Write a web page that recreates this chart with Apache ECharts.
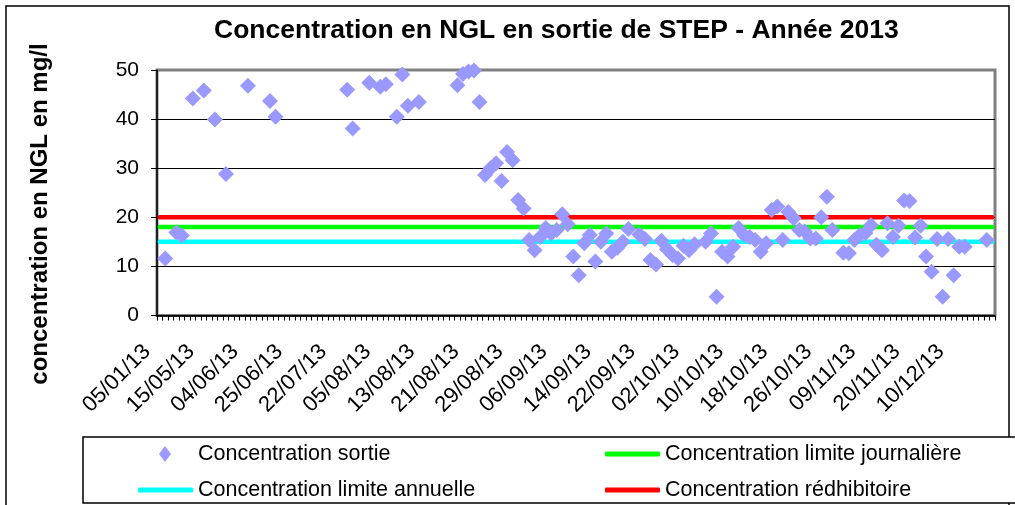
<!DOCTYPE html>
<html>
<head>
<meta charset="utf-8">
<script src="https://cdn.jsdelivr.net/npm/echarts@6/dist/echarts.min.js"></script>
<style>
  html, body { margin: 0; padding: 0; background: #fff; }
  #chart { width: 1015px; height: 505px; }
</style>
</head>
<body>
<div id="chart"></div>
<script>
// Sample dates shown on the x axis (one label every LABEL_STEP samples)
const TICK_LABELS = ['05/01/13', '15/05/13', '04/06/13', '25/06/13', '22/07/13', '05/08/13',
  '13/08/13', '21/08/13', '29/08/13', '06/09/13', '14/09/13', '22/09/13', '02/10/13',
  '10/10/13', '18/10/13', '26/10/13', '09/11/13', '20/11/13', '10/12/13'];
const LABEL_STEP = 8;

// NGL concentration at the plant outlet (mg/l), one entry per sample, null = no measure
const CONCENTRATION_SORTIE = [
  null, 11.6, null, 16.9, 16.3, null, 44.2, null, 45.8, null,   // 0-9
  39.9, null, 28.8, null, null, null, 46.8, null, null, null,   // 10-19
  43.7, 40.5, null, null, null, null, null, null, null, null,   // 20-29
  null, null, null, null, 46.0, 38.1, null, null, 47.4, null,   // 30-39
  46.6, 47.1, null, 40.5, 49.1, 42.7, null, 43.5, null, null,   // 40-49
  null, null, null, null, 46.9, 49.2, 49.7, 49.9, 43.5, 28.6,   // 50-59
  30.0, 31.0, 27.4, 33.3, 31.6, 23.5, 21.8, 15.4, 13.3, 16.0,   // 60-69
  17.8, 16.7, 17.4, 20.6, 18.6, 12.0, 8.2, 14.7, 16.4, 11.0,    // 70-79
  15.0, 16.7, 13.0, 13.8, 15.0, 17.6, null, 16.5, 15.6, 11.3,   // 80-89
  10.4, 15.2, 13.5, 12.3, 11.6, 14.2, 13.3, 14.5, null, 15.0,   // 90-99
  16.7, 3.8, 13.0, 12.0, 14.0, 17.8, 16.4, 16.0, 15.4, 13.0,    // 100-109
  14.7, 21.5, 22.2, 15.4, 21.1, 19.8, 17.4, 17.1, 15.7, 15.7,   // 110-119
  20.0, 24.2, 17.4, null, 12.8, 12.7, 15.4, 16.4, 16.8, 18.4,   // 120-129
  14.4, 13.3, 18.8, 16.0, 18.3, 23.4, 23.3, 15.9, 18.3, 12.0,   // 130-139
  8.9, 15.6, 3.8, 15.6, 8.2, 14.0, 14.0, null, null, null,      // 140-149
  15.4, null                                                    // 150-151
];

// Regulatory thresholds (mg/l)
const LIMITE_ANNUELLE = 15;
const LIMITE_JOURNALIERE = 18;
const LIMITE_REDHIBITOIRE = 20;

const SERIES_NAMES = {
  sortie: 'Concentration sortie',
  journaliere: 'Concentration limite journalière',
  annuelle: 'Concentration limite annuelle',
  redhibitoire: 'Concentration rédhibitoire'
};

const COLORS = {
  sortie: '#9999FF',
  annuelle: '#00FFFF',
  journaliere: '#00FF00',
  redhibitoire: '#FF0000'
};

const FONT = '"Liberation Sans", Arial, sans-serif';

const categories = CONCENTRATION_SORTIE.map((_, i) => String(i + 1));
const levelSeries = (value) => categories.map(() => value);
const scatterData = [];
CONCENTRATION_SORTIE.forEach((v, i) => { if (v !== null) scatterData.push([i, v]); });

const chart = echarts.init(document.getElementById('chart'), null, { renderer: 'canvas' });

const limitLine = (name, value, color) => ({
  name: name,
  type: 'line',
  data: levelSeries(value),
  symbol: 'none',
  silent: true,
  z: 2,
  lineStyle: { color: color, width: 4.5, cap: 'round' },
  itemStyle: { color: color }
});

// One legend block per entry so the two-column layout is fixed
const legendText = { fontFamily: FONT, fontSize: 21.5, color: '#000', lineHeight: 22 };
const lineLegend = (name, left, top) => ({
  left: left, top: top, padding: 0,
  icon: 'roundRect', itemWidth: 55, itemHeight: 5,
  textStyle: legendText,
  data: [name],
  selectedMode: false,
  z: 20
});

chart.setOption({
  animation: false,
  backgroundColor: '#fff',
  title: {
    text: 'Concentration en NGL en sortie de STEP - Année 2013',
    left: 214,
    top: 17,
    padding: 0,
    textStyle: { fontFamily: FONT, fontWeight: 'bold', fontSize: 26.5, color: '#000' }
  },
  grid: {
    left: 157, right: 20, top: 70, bottom: 189.5,
    show: true, borderColor: '#808080', borderWidth: 3, backgroundColor: 'transparent'
  },
  xAxis: {
    type: 'category',
    data: categories,
    boundaryGap: true,
    axisLine: { lineStyle: { color: '#000', width: 1.5 } },
    axisTick: { show: true, interval: 0, length: 5, lineStyle: { color: '#000', width: 1 } },
    axisLabel: {
      interval: LABEL_STEP - 1,
      rotate: 45,
      margin: 20,
      padding: [0, 18, 0, 0],
      fontFamily: FONT,
      fontSize: 22,
      color: '#000',
      formatter: (value, index) => TICK_LABELS[index / LABEL_STEP] || ''
    },
    splitLine: { show: false }
  },
  yAxis: {
    type: 'value',
    min: 0, max: 50, interval: 10,
    axisLine: { show: true, lineStyle: { color: '#000', width: 1.5 } },
    axisTick: { show: true, length: 6, lineStyle: { color: '#000' } },
    axisLabel: { margin: 18, fontFamily: FONT, fontSize: 21, color: '#000' },
    splitLine: { show: true, showMaxLine: false, lineStyle: { color: '#000', width: 1 } }
  },
  legend: [
    {
      left: 159, top: 443, padding: 0,
      icon: 'diamond', itemWidth: 12, itemHeight: 16,
      textStyle: Object.assign({}, legendText, { padding: [0, 0, 0, 22] }),
      data: [SERIES_NAMES.sortie],
      selectedMode: false,
      z: 20
    },
    lineLegend(SERIES_NAMES.annuelle, 138, 479),
    lineLegend(SERIES_NAMES.journaliere, 605, 443),
    lineLegend(SERIES_NAMES.redhibitoire, 605, 479)
  ],
  graphic: [
    {
      type: 'rect', z: 0, silent: true,
      shape: { x: 6, y: 6, width: 1003, height: 600 },
      style: { fill: 'none', stroke: '#000', lineWidth: 1.5 }
    },
    {
      type: 'rect', z: 10, silent: true,
      shape: { x: 83, y: 437, width: 1000, height: 66 },
      style: { fill: '#fff', stroke: '#000', lineWidth: 1.5 }
    },
    {
      type: 'text', z: 10, silent: true,
      x: 40, y: 214, rotation: Math.PI / 2,
      style: {
        text: 'concentration en NGL en mg/l',
        font: 'bold 24px ' + FONT,
        fill: '#000',
        align: 'center',
        verticalAlign: 'middle'
      }
    }
  ],
  series: [
    limitLine(SERIES_NAMES.annuelle, LIMITE_ANNUELLE, COLORS.annuelle),
    limitLine(SERIES_NAMES.journaliere, LIMITE_JOURNALIERE, COLORS.journaliere),
    limitLine(SERIES_NAMES.redhibitoire, LIMITE_REDHIBITOIRE, COLORS.redhibitoire),
    {
      name: SERIES_NAMES.sortie,
      type: 'scatter',
      data: scatterData,
      symbol: 'diamond',
      symbolSize: 16,
      z: 3,
      silent: true,
      itemStyle: { color: COLORS.sortie, opacity: 1 }
    }
  ]
});
</script>
</body>
</html>
